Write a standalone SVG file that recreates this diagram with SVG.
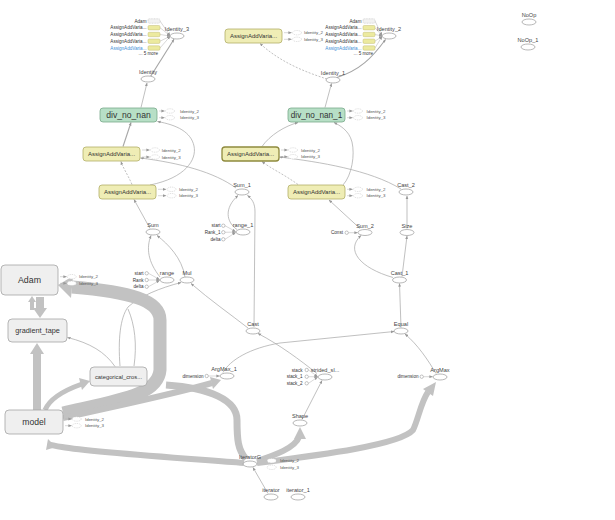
<svg xmlns="http://www.w3.org/2000/svg" width="615" height="520" viewBox="0 0 615 520">
<defs>
<marker id="ar" viewBox="0 0 10 10" refX="9" refY="5" markerWidth="3.5" markerHeight="3.5" markerUnits="userSpaceOnUse" orient="auto"><path d="M0,1L10,5L0,9z" fill="#999"/></marker>
<style>
text{font-family:"Liberation Sans",Arial,sans-serif;fill:#444}
.l{font-size:5.6px;text-anchor:middle}
.s{font-size:4.6px;text-anchor:end;fill:#333}
.a{font-size:4.4px;fill:#555}
.op{fill:#fff;stroke:#9a9a9a;stroke-width:0.7}
.an{fill:#fff;stroke:#b8b8b8;stroke-width:0.5;stroke-dasharray:1 0.8}
.ic{fill:#fff;stroke:#888;stroke-width:0.5}
.yb{fill:#efedb5;stroke:#b3ae68;stroke-width:0.8}
.ys{fill:#ecea9f;stroke:#c2bd78;stroke-width:0.5}
.gs{fill:#f2f2f2;stroke:#bbb;stroke-width:0.5;stroke-dasharray:1 0.6}
.gb{fill:#b7dfc6;stroke:#79a98a;stroke-width:0.8}
.mb{fill:#efefef;stroke:#a5a5a5;stroke-width:0.8}
.bt{font-size:6px;text-anchor:middle;fill:#333}
.e{fill:none;stroke:#a5a5a5;stroke-width:0.7;marker-end:url(#ar)}
.ea{fill:none;stroke:#b0b0b0;stroke-width:0.5;marker-end:url(#ar)}
.d{stroke-dasharray:2 1.5}
.b{fill:none;stroke:#c2c2c2;stroke-linecap:butt}
.bh{fill:#c2c2c2}
</style>
</defs>
<rect width="615" height="520" fill="#fff"/>

<g id="edges">
<path class="ea" d="M160,21L170,35.5"/><path class="ea" d="M160,27.7L170,35.7"/><path class="ea" d="M160,34.5L170,36"/><path class="ea" d="M160,41.2L170,36.3"/><path class="ea" d="M160,48L170,36.5"/>
<path class="ea" d="M375,21L382,35.5"/><path class="ea" d="M375,27.7L382,35.7"/><path class="ea" d="M375,34.5L382,36"/><path class="ea" d="M375,41.2L382,36.3"/><path class="ea" d="M375,48L382,36.5"/>
<path class="e" style="stroke-width:1.1" d="M150.5,76.5L174,39.3"/>
<path class="e" style="stroke-width:1.1" d="M337,77.5C360,70 372,58 385.5,39.5"/>
<path class="e d" d="M327,79C305,72 280,62 260,43.5"/>
<path class="e" d="M141,107.5L147,83"/>
<path class="e" d="M325,107.5L331.5,83.5"/>
<path class="e" style="stroke-width:1.1" d="M123,146.5L131,122.5"/>
<path class="e d" d="M132,184.5C128,175 123,168 121,161.5"/>
<path class="e" d="M150,185C185,178 197,160 194,146C191,132 177,125 157.5,121.5"/>
<path class="e" d="M236,188C214,172 180,163 140.5,158"/>
<path class="e" d="M262,146.5C270,135 285,126 298,122.5"/>
<path class="e d" d="M298,184.5C285,175 270,168 262,161.5"/>
<path class="e" d="M343,185C352,175 355,155 352,142C349,130 339,125 334,122.5"/>
<path class="e" d="M401,189C370,170 320,162 279.5,157"/>
<path class="e" d="M150,228.5L134,199.5"/>
<path class="e" d="M160,277C148,262 146,248 151,235.5"/>
<path class="e" d="M185,277C182,258 168,244 157,235.5"/>
<path class="e" d="M237,229.5C226,222 224,208 238,195.5"/>
<path class="e" d="M254,327L255,212C255,203 252,199 247.5,195.5"/>
<path class="e" d="M360,228.5L329,200"/>
<path class="e" d="M407,228.5L407,196"/>
<path class="e" d="M402,276.5L407,236"/>
<path class="e" d="M393,277.5C360,268 345,250 361,235.5"/>
<path class="e" d="M401,327.5L399.5,283.5"/>
<path class="e" d="M248,328C230,314 210,300 191,283.5"/>
<path class="e" d="M120,366C118,340 120,318 128,307C140,296 160,288 181,282.5"/>
<path fill="none" stroke="#a5a5a5" stroke-width="0.7" d="M134,366C137,345 135,325 128,309"/>
<path class="e" d="M115,366.5C105,352 90,343 67.5,337.5"/>
<path class="e" d="M317,373.5C300,360 280,345 258,333.5"/>
<path class="e" d="M223,372.5C230,360 250,348 280,343L394,331.5"/>
<path class="e" d="M436,373.5C428,360 418,345 405,334"/>
<path class="e" d="M302,419.5L322,380.5"/>
<path class="e" d="M268,493.5L253,467.5"/>
<path class="b" stroke-width="13" d="M63,413C120,400 158,395 160,370L160,320C160,300 130,292 72,287"/>
<polygon class="bh" points="58,285 73,276 71,298"/>
<path class="b" stroke-width="7" d="M246,459C238,450 237,440 237,420C237,400 210,388 166,385"/>
<path class="b" stroke-width="8" d="M37,410L37,352"/>
<polygon class="bh" points="37,343 30,354 44,354"/>
<path class="b" stroke-width="8" d="M40,297L40,310"/>
<polygon class="bh" points="40,318 33,308 47,308"/>
<path class="b" stroke-width="4" d="M32,310L32,300"/>
<polygon class="bh" points="32,296 28,302 36,302"/>
<path class="b" stroke-width="5" d="M45,410C50,398 65,390 82,384"/>
<polygon class="bh" points="90,381 79,378 82,390"/>
<path class="b" stroke-width="6" d="M63,418C120,405 170,395 212,383"/>
<polygon class="bh" points="221,380 210,377 213,389"/>
<path class="b" stroke-width="6" d="M244,463C180,458 90,452 62,447C55,446 52,445 51,445"/>
<polygon class="bh" points="48,439 56,447 46,450"/>
<path class="b" stroke-width="6" d="M257,461C275,455 295,448 299,437"/>
<polygon class="bh" points="300,427 294,439 306,439"/>
<path class="b" stroke-width="6" d="M257,463C320,455 400,445 413,430C418,420 421,402 428,392"/>
<polygon class="bh" points="436,382 423,389 433,396"/>
</g>

<g id="Identity_3">
<text class="s" x="146.5" y="22.6">Adam</text><rect class="gs" x="148" y="18.8" width="12" height="4.4" rx="1.2"/>
<text class="s" x="146.5" y="29.3">AssignAddVaria...</text><rect class="ys" x="148" y="25.5" width="12" height="4.4" rx="1.2"/>
<text class="s" x="146.5" y="36.1">AssignAddVaria...</text><rect class="ys" x="148" y="32.3" width="12" height="4.4" rx="1.2"/>
<text class="s" x="146.5" y="42.8">AssignAddVaria...</text><rect class="ys" x="148" y="39" width="12" height="4.4" rx="1.2"/>
<text class="s" x="146.5" y="49.6" style="fill:#3d8fd6">AssignAddVaria...</text><rect class="ys" x="148" y="45.8" width="12" height="4.4" rx="1.2"/>
<text class="s" x="158" y="55">... 5 more</text>
<ellipse class="op" cx="177" cy="36" rx="7" ry="3"/><text class="l" x="177" y="31">Identity_3</text>
</g>
<g id="Identity"><ellipse class="op" cx="148" cy="79" rx="7" ry="3"/><text class="l" x="148" y="74">Identity</text></g>
<g id="AssignAddVaria_top">
<rect class="yb" x="225" y="29" width="57" height="14" rx="3"/><text class="bt" x="253.5" y="38.2">AssignAddVaria...</text>
<path class="ea" d="M284,32.7L291.5,32.7"/><ellipse class="an" cx="297" cy="32.7" rx="4.5" ry="2.2"/><text class="a" x="304" y="34.3">Identity_2</text>
<path class="ea" d="M284,39.3L291.5,39.3"/><ellipse class="an" cx="297" cy="39.3" rx="4.5" ry="2.2"/><text class="a" x="304" y="40.9">Identity_3</text>
</g>
<g id="Identity_2">
<text class="s" x="361.5" y="22.6">Adam</text><rect class="gs" x="363" y="18.8" width="12" height="4.4" rx="1.2"/>
<text class="s" x="361.5" y="29.3">AssignAddVaria...</text><rect class="ys" x="363" y="25.5" width="12" height="4.4" rx="1.2"/>
<text class="s" x="361.5" y="36.1">AssignAddVaria...</text><rect class="ys" x="363" y="32.3" width="12" height="4.4" rx="1.2"/>
<text class="s" x="361.5" y="42.8">AssignAddVaria...</text><rect class="ys" x="363" y="39" width="12" height="4.4" rx="1.2"/>
<text class="s" x="361.5" y="49.6" style="fill:#3d8fd6">AssignAddVaria...</text><rect class="ys" x="363" y="45.8" width="12" height="4.4" rx="1.2"/>
<text class="s" x="373" y="55">... 5 more</text>
<ellipse class="op" cx="389" cy="36" rx="7" ry="3"/><text class="l" x="389" y="31">Identity_2</text>
</g>
<g id="Identity_1"><ellipse class="op" cx="333" cy="80" rx="7" ry="3"/><text class="l" x="333" y="75">Identity_1</text></g>
<g id="NoOp"><ellipse class="op" cx="529" cy="22" rx="7" ry="3"/><text class="l" x="529" y="16.5">NoOp</text></g>
<g id="NoOp_1"><ellipse class="op" cx="528" cy="47" rx="7" ry="3"/><text class="l" x="528" y="41.5">NoOp_1</text></g>

<g id="div_no_nan">
<rect class="gb" x="100" y="108" width="57" height="14" rx="3"/><text x="128.5" y="118.2" style="font-size:8.6px;text-anchor:middle;fill:#333">div_no_nan</text>
<path class="ea" d="M159,111L164.5,111"/><ellipse class="an" cx="170" cy="111" rx="4.5" ry="2.2"/><text class="a" x="180" y="112.6">Identity_2</text>
<path class="ea" d="M159,117.7L164.5,117.7"/><ellipse class="an" cx="170" cy="117.7" rx="4.5" ry="2.2"/><text class="a" x="180" y="119.3">Identity_3</text>
</g>
<g id="div_no_nan_1">
<rect class="gb" x="288" y="108" width="57" height="14" rx="3"/><text x="316.5" y="118.2" style="font-size:8.2px;text-anchor:middle;fill:#333">div_no_nan_1</text>
<path class="ea" d="M347,111L352.5,111"/><ellipse class="an" cx="358" cy="111" rx="4.5" ry="2.2"/><text class="a" x="366.5" y="112.6">Identity_2</text>
<path class="ea" d="M347,117.7L352.5,117.7"/><ellipse class="an" cx="358" cy="117.7" rx="4.5" ry="2.2"/><text class="a" x="366.5" y="119.3">Identity_3</text>
</g>
<g id="AssignAddVaria_c1r2">
<rect class="yb" x="83" y="147" width="57" height="14" rx="3"/><text class="bt" x="111.5" y="156.2">AssignAddVaria...</text>
<path class="ea" d="M142,150L149.5,150"/><ellipse class="an" cx="155" cy="150" rx="4.5" ry="2.2"/><text class="a" x="161.7" y="151.6">Identity_2</text>
<path class="ea" d="M142,157L149.5,157"/><ellipse class="an" cx="155" cy="157" rx="4.5" ry="2.2"/><text class="a" x="161.7" y="158.6">Identity_3</text>
</g>
<g id="AssignAddVaria_c2r2">
<rect class="yb" x="222" y="147" width="57" height="14" rx="3" style="stroke:#8f8a3e;stroke-width:1.3"/><text class="bt" x="250.5" y="156.2">AssignAddVaria...</text>
<path class="ea" d="M281,150L287.5,150"/><ellipse class="an" cx="293" cy="150" rx="4.5" ry="2.2"/><text class="a" x="301" y="151.6">Identity_2</text>
<path class="ea" d="M281,156.7L287.5,156.7"/><ellipse class="an" cx="293" cy="156.7" rx="4.5" ry="2.2"/><text class="a" x="301" y="158.3">Identity_3</text>
</g>
<g id="AssignAddVaria_c1r3">
<rect class="yb" x="99" y="185" width="57" height="14" rx="3"/><text class="bt" x="127.5" y="194.2">AssignAddVaria...</text>
<path class="ea" d="M158,189.3L166,189.3"/><ellipse class="an" cx="171.5" cy="189.3" rx="4.5" ry="2.2"/><text class="a" x="179" y="190.9">Identity_2</text>
<path class="ea" d="M158,195.7L166,195.7"/><ellipse class="an" cx="171.5" cy="195.7" rx="4.5" ry="2.2"/><text class="a" x="179" y="197.3">Identity_3</text>
</g>
<g id="AssignAddVaria_c2r3">
<rect class="yb" x="288" y="185" width="57" height="14" rx="3"/><text class="bt" x="316.5" y="194.2">AssignAddVaria...</text>
<path class="ea" d="M347,189.3L352.5,189.3"/><ellipse class="an" cx="358" cy="189.3" rx="4.5" ry="2.2"/><text class="a" x="366.5" y="190.9">Identity_2</text>
<path class="ea" d="M347,195.7L352.5,195.7"/><ellipse class="an" cx="358" cy="195.7" rx="4.5" ry="2.2"/><text class="a" x="366.5" y="197.3">Identity_3</text>
</g>

<g id="Sum_1"><ellipse class="op" cx="242" cy="192" rx="7" ry="3"/><text class="l" x="242" y="187">Sum_1</text></g>
<g id="Cast_2"><ellipse class="op" cx="406" cy="192" rx="7" ry="3"/><text class="l" x="406" y="187">Cast_2</text></g>
<g id="Sum"><ellipse class="op" cx="153" cy="232" rx="7" ry="3"/><text class="l" x="153" y="227">Sum</text></g>
<g id="range_1">
<text class="s" x="220.5" y="227.2">start</text><circle class="ic" cx="223.3" cy="225.7" r="1.7"/><path class="ea" d="M225,225.7L235.5,231.5"/>
<text class="s" x="220.5" y="233.8">Rank_1</text><circle class="ic" cx="223.3" cy="232.3" r="1.7"/><path class="ea" d="M225,232.3L235.5,232.1"/>
<text class="s" x="220.5" y="240.8">delta</text><circle class="ic" cx="223.3" cy="239.3" r="1.7"/><path class="ea" d="M225,239.3L235.5,232.6"/>
<ellipse class="op" cx="243" cy="232" rx="7" ry="3"/><text class="l" x="243" y="227">range_1</text>
</g>
<g id="Sum_2">
<text class="s" x="343" y="234.2">Const</text><circle class="ic" cx="346.7" cy="232.7" r="1.7"/><path class="ea" d="M348.5,232.7L357.5,232.7"/>
<ellipse class="op" cx="365" cy="232.5" rx="7" ry="3"/><text class="l" x="365" y="227.5">Sum_2</text>
</g>
<g id="Size"><ellipse class="op" cx="407" cy="232.5" rx="7" ry="3"/><text class="l" x="407" y="227.5">Size</text></g>
<g id="range">
<text class="s" x="143.5" y="274.8">start</text><circle class="ic" cx="146.7" cy="273.3" r="1.7"/><path class="ea" d="M148.5,273.3L159.5,279.5"/>
<text class="s" x="143.5" y="281.5">Rank</text><circle class="ic" cx="146.7" cy="280" r="1.7"/><path class="ea" d="M148.5,280L159.5,280"/>
<text class="s" x="143.5" y="288.2">delta</text><circle class="ic" cx="146.7" cy="286.7" r="1.7"/><path class="ea" d="M148.5,286.7L159.5,280.5"/>
<ellipse class="op" cx="167" cy="280" rx="7" ry="3"/><text class="l" x="167" y="275">range</text>
</g>
<g id="Mul"><ellipse class="op" cx="187" cy="280" rx="7" ry="3"/><text class="l" x="187" y="275">Mul</text></g>
<g id="Cast_1"><ellipse class="op" cx="399.5" cy="280" rx="7" ry="3"/><text class="l" x="399.5" y="275">Cast_1</text></g>

<g id="Adam">
<rect class="mb" x="1" y="265" width="57" height="30" rx="4"/><text x="29.5" y="283.2" style="font-size:8.8px;text-anchor:middle;fill:#333">Adam</text>
<path class="ea" d="M60,276.7L66.5,276.7"/><ellipse class="an" cx="71.7" cy="276.7" rx="4.5" ry="2.2"/><text class="a" x="79" y="278.3">Identity_2</text>
<path class="ea" d="M60,283.3L66.5,283.3"/><ellipse class="an" cx="71.7" cy="283.3" rx="4.5" ry="2.2"/><text class="a" x="79" y="284.9">Identity_3</text>
</g>
<g id="gradient_tape"><rect class="mb" x="8" y="319" width="59" height="23" rx="4"/><text x="37.5" y="333" style="font-size:7.3px;text-anchor:middle;fill:#333">gradient_tape</text></g>
<g id="Cast"><ellipse class="op" cx="253" cy="331" rx="7" ry="3"/><text class="l" x="253" y="326">Cast</text></g>
<g id="Equal"><ellipse class="op" cx="401" cy="331" rx="7" ry="3"/><text class="l" x="401" y="326">Equal</text></g>
<g id="categorical_cros"><rect class="mb" x="90" y="367" width="57" height="19" rx="4"/><text x="118.5" y="378.5" style="font-size:5.8px;text-anchor:middle;fill:#333">categorical_cros...</text></g>
<g id="ArgMax_1">
<text class="s" x="203.5" y="377.5">dimension</text><circle class="ic" cx="206.7" cy="376" r="1.7"/><path class="ea" d="M208.5,376L219.5,376"/>
<ellipse class="op" cx="227" cy="376" rx="7" ry="3"/><text class="l" x="224" y="371">ArgMax_1</text>
</g>
<g id="strided_slice">
<text class="s" x="302.5" y="371.5">stack</text><circle class="ic" cx="306.7" cy="370" r="1.7"/><path class="ea" d="M308.5,370L317.5,376.5"/>
<text class="s" x="302.5" y="378.2">stack_1</text><circle class="ic" cx="306.7" cy="376.7" r="1.7"/><path class="ea" d="M308.5,376.7L317.5,376.8"/>
<text class="s" x="302.5" y="384.8">stack_2</text><circle class="ic" cx="306.7" cy="383.3" r="1.7"/><path class="ea" d="M308.5,383.3L317.5,377.2"/>
<ellipse class="op" cx="325" cy="377" rx="7" ry="3"/><text class="l" x="325" y="372">strided_sl...</text>
</g>
<g id="ArgMax">
<text class="s" x="418.5" y="378.2">dimension</text><circle class="ic" cx="421.7" cy="376.7" r="1.7"/><path class="ea" d="M423.5,376.7L432.5,376.7"/>
<ellipse class="op" cx="440" cy="377" rx="7" ry="3"/><text class="l" x="440" y="372">ArgMax</text>
</g>
<g id="Shape"><ellipse class="op" cx="300" cy="423" rx="7" ry="3"/><text class="l" x="300" y="418">Shape</text></g>
<g id="model">
<rect class="mb" x="5" y="410" width="58" height="24" rx="4"/><text x="34" y="425" style="font-size:8.6px;text-anchor:middle;fill:#333">model</text>
<path class="ea" d="M65,419L71.5,419"/><ellipse class="an" cx="76.7" cy="419" rx="4.5" ry="2.2"/><text class="a" x="85" y="420.6">Identity_2</text>
<path class="ea" d="M65,425.7L71.5,425.7"/><ellipse class="an" cx="76.7" cy="425.7" rx="4.5" ry="2.2"/><text class="a" x="85" y="427.3">Identity_3</text>
</g>
<g id="IteratorG">
<ellipse class="op" cx="250" cy="464" rx="7" ry="3"/><text class="l" x="250" y="458.5">IteratorG</text>
<ellipse class="an" cx="271.7" cy="460.7" rx="4.5" ry="2.2"/><text class="a" x="280" y="462.3">Identity_2</text>
<ellipse class="an" cx="271.7" cy="467.3" rx="4.5" ry="2.2"/><text class="a" x="280" y="468.9">Identity_3</text>
</g>
<g id="iterator"><ellipse class="op" cx="271" cy="497" rx="7" ry="3"/><text class="l" x="271" y="492">iterator</text></g>
<g id="iterator_1"><ellipse class="op" cx="298" cy="497" rx="7" ry="3"/><text class="l" x="298" y="492">iterator_1</text></g>
</svg>
